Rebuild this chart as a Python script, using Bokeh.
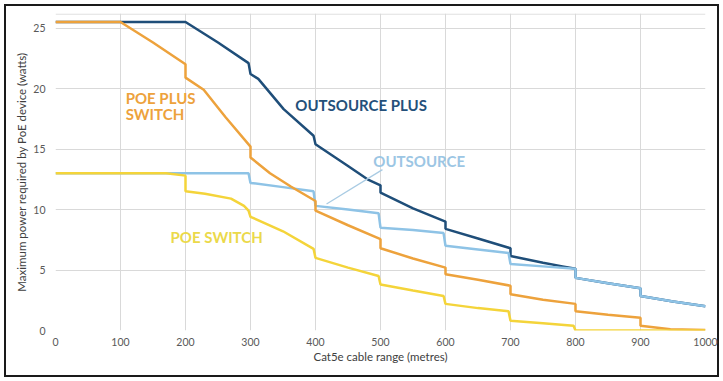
from bokeh.plotting import figure
from bokeh.models import FixedTicker, Label, Span
from bokeh.embed import file_html
from bokeh.resources import INLINE

# ---- data ----
x_ticks = [0, 100, 200, 300, 400, 500, 600, 700, 800, 900, 1000]
y_ticks = [0, 5, 10, 15, 20, 25]

poe_plus_x = [0, 100, 150, 200, 200, 228, 262, 300, 300, 330, 362, 400, 400, 450, 500, 500, 550,
              600, 600, 650, 700, 700, 750, 800, 800, 850, 900, 900, 946, 1000]
poe_plus_y = [25.5, 25.5, 23.8, 22.0, 20.9, 19.9, 17.6, 15.2, 14.3, 13.0, 11.9, 10.7, 9.9, 8.7, 7.55, 6.8, 5.95,
              5.2, 4.65, 4.2, 3.7, 3.0, 2.55, 2.2, 1.6, 1.3, 1.05, 0.4, 0.1, 0.05]

outs_plus_x = [0, 200, 250, 297, 300, 312, 351, 397, 400, 450, 480, 500, 500, 550,
               600, 600, 650, 700, 700, 750, 780, 800, 800, 850, 900, 900, 950, 1000]
outs_plus_y = [25.5, 25.5, 23.8, 22.1, 21.2, 20.8, 18.3, 16.1, 15.4, 13.6, 12.5, 12.0, 11.4, 10.1,
               9.0, 8.4, 7.6, 6.8, 6.15, 5.6, 5.3, 5.1, 4.35, 3.9, 3.5, 2.85, 2.4, 2.0]

outs_x = [0, 297, 300, 350, 397, 400, 450, 497, 500, 550, 597, 600, 650, 697, 700, 750,
          800, 800, 850, 900, 900, 950, 1000]
outs_y = [13.0, 13.0, 12.2, 11.85, 11.5, 10.3, 10.0, 9.7, 8.5, 8.3, 8.05, 7.0, 6.7, 6.4, 5.5, 5.3,
          5.1, 4.35, 3.9, 3.5, 2.85, 2.4, 2.0]

poe_x = [0, 170, 200, 200, 230, 270, 290, 297, 300, 350, 397, 400, 450, 497, 500, 550,
         597, 600, 650, 697, 700, 750, 797, 800, 1000]
poe_y = [13.0, 13.0, 12.8, 11.5, 11.3, 10.9, 10.3, 9.9, 9.4, 8.2, 6.75, 6.0, 5.2, 4.5, 3.8, 3.3,
         2.85, 2.2, 1.85, 1.6, 0.8, 0.6, 0.4, 0.0, 0.0]

C_ORANGE = "#EDA23C"
C_DARK = "#1F4E79"
C_LIGHT = "#8EC3E6"
C_YELLOW = "#F4D43A"
FONT = "Lato"

p = figure(width=723, height=381, output_backend="svg", toolbar_location=None,
           x_range=(0, 1000), y_range=(0, 26.2),
           min_border_left=55, min_border_right=18, min_border_top=13, min_border_bottom=51)
p.background_fill_color = "white"
p.border_fill_color = None
p.outline_line_color = None
p.styles = {"background": "white", "outline": "2px solid #1A1A1A", "outline-offset": "-6px"}

# grid
p.xaxis.ticker = FixedTicker(ticks=x_ticks)
p.yaxis.ticker = FixedTicker(ticks=y_ticks)
p.xgrid.grid_line_color = "#D9D9D9"
p.ygrid.grid_line_color = "#D9D9D9"
p.xgrid.grid_line_width = 1
p.ygrid.grid_line_width = 1
p.add_layout(Span(location=26.15, dimension="width", line_color="#D9D9D9", line_width=1))

for ax in (p.xaxis, p.yaxis):
    ax.axis_line_color = None
    ax.major_tick_line_color = None
    ax.minor_tick_line_color = None
    ax.major_tick_out = 0
    ax.major_tick_in = 0
    ax.minor_tick_out = 0
    ax.minor_tick_in = 0
    ax.major_label_text_font = FONT
    ax.major_label_text_font_size = "10.5px"
    ax.major_label_text_color = "#595959"
    ax.axis_label_text_font = FONT
    ax.axis_label_text_font_size = "11.5px"
    ax.axis_label_text_font_style = "normal"
    ax.axis_label_text_color = "#404040"

p.xaxis.axis_label = "Cat5e cable range (metres)"
p.yaxis.axis_label = "Maximum power required by PoE device (watts)"
p.xaxis.major_label_standoff = 7
p.yaxis.major_label_standoff = 10
p.xaxis.axis_label_standoff = 1
p.yaxis.axis_label_standoff = 2

# series
p.line(outs_plus_x, outs_plus_y, line_color=C_DARK, line_width=2.5)
p.line(outs_x, outs_y, line_color=C_LIGHT, line_width=2.5)
p.line(poe_plus_x, poe_plus_y, line_color=C_ORANGE, line_width=2.5)
p.line(poe_x, poe_y, line_color=C_YELLOW, line_width=2.5)

# leader line for OUTSOURCE label
p.segment(x0=[503], y0=[13.3], x1=[417], y1=[10.45], line_color="#A9CBE3", line_width=1.3)

def add_label(txt, x, y, color):
    p.add_layout(Label(x=x, y=y, text=txt, text_color=color, text_font=FONT,
                       text_font_size="15px", text_font_style="bold",
                       text_align="left", text_baseline="middle"))

add_label("POE PLUS", 108, 19.2, C_ORANGE)
add_label("SWITCH", 108, 17.9, C_ORANGE)
add_label("OUTSOURCE PLUS", 369, 18.6, "#24507A")
add_label("OUTSOURCE", 489, 14.0, "#9CC6E4")
add_label("POE SWITCH", 177, 7.7, "#EBD94A")

open("out.html", "w").write(file_html(p, INLINE))
